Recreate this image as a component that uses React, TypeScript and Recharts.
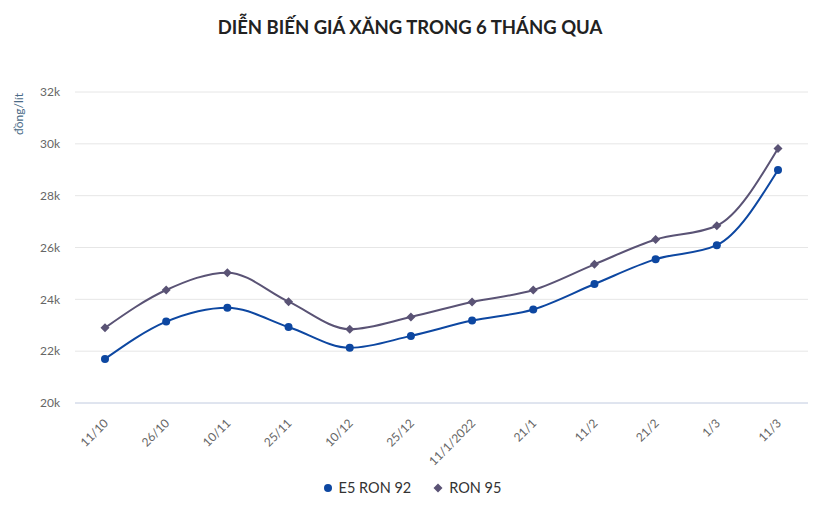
import { CartesianGrid, Line, LineChart, XAxis, YAxis } from "recharts";

// Giá xăng E5 RON 92 và RON 95 qua các kỳ điều hành (đồng/lít)
const dates = ["11/10", "26/10", "10/11", "25/11", "10/12", "25/12", "11/1/2022", "21/1", "11/2", "21/2", "1/3", "11/3"];
const e5Ron92 = [21700, 23140, 23680, 22930, 22130, 22590, 23180, 23610, 24590, 25550, 26090, 28990];
const ron95 = [22900, 24360, 25030, 23910, 22850, 23320, 23900, 24360, 25350, 26310, 26840, 29820];
const yTicks = [20000, 22000, 24000, 26000, 28000, 30000, 32000];

const BLUE = "#0d47a1";
const PURPLE = "#5a5375";
const FONT = "Lato, 'Open Sans', sans-serif";

const data = dates.map((d, i) => ({ date: d, e5: e5Ron92[i], r95: ron95[i] }));

function Diamond({ cx, cy, r = 4.5, fill }: { cx?: number; cy?: number; r?: number; fill: string }) {
  if (cx == null || cy == null) return null;
  return <path d={`M${cx} ${cy - r}L${cx + r} ${cy}L${cx} ${cy + r}L${cx - r} ${cy}Z`} fill={fill} />;
}

function XTick({ x, y, payload }: { x?: number; y?: number; payload?: { value: string } }) {
  const tx = (x ?? 0) + 4;
  const ty = (y ?? 0) + 13;
  return (
    <text x={tx} y={ty} transform={`rotate(-45 ${tx} ${ty})`} textAnchor="end" fontSize={12} fontFamily={FONT} fill="#666">
      {payload?.value}
    </text>
  );
}

export default function App() {
  return (
    <div style={{ position: "absolute", left: 0, top: 0, width: 828, height: 516, background: "#fff", fontFamily: FONT }}>
      <div
        style={{
          position: "absolute",
          top: 16,
          left: 0,
          width: 820,
          textAlign: "center",
          fontSize: 18.5,
          fontWeight: 700,
          color: "#222",
        }}
      >
        DIỄN BIẾN GIÁ XĂNG TRONG 6 THÁNG QUA
      </div>
      <div
        style={{
          position: "absolute",
          left: 18,
          top: 114,
          transform: "translate(-50%, -50%) rotate(-90deg)",
          fontSize: 12,
          color: "#4a6a86",
          whiteSpace: "nowrap",
        }}
      >
        đồng/lít
      </div>
      <LineChart width={828} height={516} data={data} margin={{ top: 92, right: 20, bottom: 83, left: 0 }}>
        <CartesianGrid vertical={false} stroke="#e6e6e6" />
        <XAxis
          dataKey="date"
          interval={0}
          tickLine={false}
          axisLine={{ stroke: "#ccd6eb" }}
          padding={{ left: 30, right: 30 }}
          tick={<XTick />}
          height={30}
        />
        <YAxis
          width={75}
          domain={[20000, 32000]}
          ticks={yTicks}
          tickLine={false}
          axisLine={false}
          tickMargin={9}
          tick={{ fontSize: 12, fill: "#666", fontFamily: FONT }}
          tickFormatter={(v: number) => `${v / 1000}k`}
        />
        <Line
          type="monotone"
          dataKey="e5"
          name="E5 RON 92"
          stroke={BLUE}
          strokeWidth={2}
          dot={{ r: 4, fill: BLUE, stroke: BLUE, strokeWidth: 0 }}
          isAnimationActive={false}
        />
        <Line
          type="monotone"
          dataKey="r95"
          name="RON 95"
          stroke={PURPLE}
          strokeWidth={2}
          dot={(p: { cx?: number; cy?: number; index?: number }) => <Diamond key={p.index} cx={p.cx} cy={p.cy} fill={PURPLE} />}
          isAnimationActive={false}
        />
      </LineChart>
      <div
        style={{
          position: "absolute",
          top: 479,
          left: 0,
          width: 824,
          display: "flex",
          justifyContent: "center",
          gap: 22,
          fontSize: 14.5,
          color: "#333",
        }}
      >
        <span style={{ display: "flex", alignItems: "center", gap: 6 }}>
          <svg width={10} height={10}>
            <circle cx={5} cy={5} r={4} fill={BLUE} />
          </svg>
          E5 RON 92
        </span>
        <span style={{ display: "flex", alignItems: "center", gap: 6 }}>
          <svg width={10} height={10}>
            <Diamond cx={5} cy={5} r={4.5} fill={PURPLE} />
          </svg>
          RON 95
        </span>
      </div>
    </div>
  );
}
